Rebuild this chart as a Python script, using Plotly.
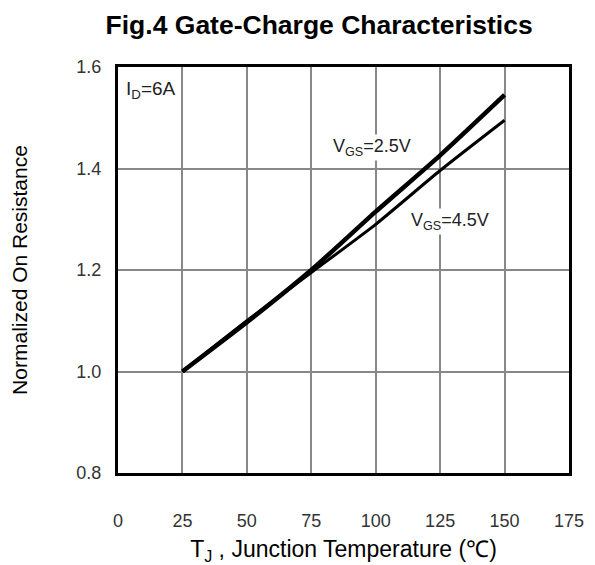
import plotly.graph_objects as go

temps = [25, 50, 75, 100, 125, 150]
r_vgs25 = [1.0, 1.097, 1.2, 1.315, 1.426, 1.545]
r_vgs45 = [1.0, 1.10, 1.195, 1.29, 1.396, 1.495]

x_ticks = [0, 25, 50, 75, 100, 125, 150, 175]
y_ticks = [0.8, 1.0, 1.2, 1.4, 1.6]
y_tick_text = ["0.8", "1.0", "1.2", "1.4", "1.6"]

sans = "Liberation Sans, Arial, sans-serif"

fig = go.Figure()
fig.add_trace(go.Scatter(x=temps, y=r_vgs45, mode="lines",
                         line=dict(color="black", width=3, shape="spline", smoothing=0.6),
                         showlegend=False))
fig.add_trace(go.Scatter(x=temps, y=r_vgs25, mode="lines",
                         line=dict(color="black", width=4.5, shape="spline", smoothing=0.6),
                         showlegend=False))

fig.add_annotation(x=2.3, y=1.555, xref="x", yref="y", text="I<sub>D</sub>=6A",
                   showarrow=False, xanchor="left", yanchor="middle",
                   font=dict(family=sans, size=19, color="#222"))
fig.add_annotation(x=98.6, y=1.442, xref="x", yref="y", text="V<sub>GS</sub>=2.5V",
                   showarrow=False, xanchor="center", yanchor="middle",
                   bgcolor="white", borderpad=1,
                   font=dict(family=sans, size=18, color="#222"))
fig.add_annotation(x=128.8, y=1.295, xref="x", yref="y", text="V<sub>GS</sub>=4.5V",
                   showarrow=False, xanchor="center", yanchor="middle",
                   bgcolor="white", borderpad=1,
                   font=dict(family=sans, size=18, color="#222"))

fig.update_layout(
    width=587, height=557,
    margin=dict(l=110, r=26, t=59, b=92, autoexpand=False),
    paper_bgcolor="white", plot_bgcolor="white",
    title=dict(text="<b>Fig.4 Gate-Charge Characteristics</b>", x=0.530, xanchor="center",
               y=0.970, yanchor="middle",
               font=dict(family=sans, size=26.5, color="black")),
    xaxis=dict(range=[0, 175], tickvals=x_ticks, ticks="", showgrid=True, automargin=False,
               gridcolor="#888", gridwidth=2, showline=True, linecolor="black",
               linewidth=3, mirror=True, zeroline=False, ticklabelstandoff=29,
               tickfont=dict(family=sans, size=18, color="#333"),
               title=dict(text="T<sub>J</sub> , Junction Temperature (℃)", standoff=13,
                          font=dict(family=sans, size=23, color="black"))),
    yaxis=dict(range=[0.8, 1.6], tickvals=y_ticks, ticktext=y_tick_text, ticks="",
               showgrid=True, gridcolor="#888", gridwidth=2, showline=True, automargin=False,
               linecolor="black", linewidth=3, mirror=True, zeroline=False,
               ticklabelstandoff=10,
               tickfont=dict(family=sans, size=18, color="#333"),
               title=dict(text="Normalized On Resistance", standoff=45,
                          font=dict(family=sans, size=21, color="black"))),
)

fig.write_html("out.html")
